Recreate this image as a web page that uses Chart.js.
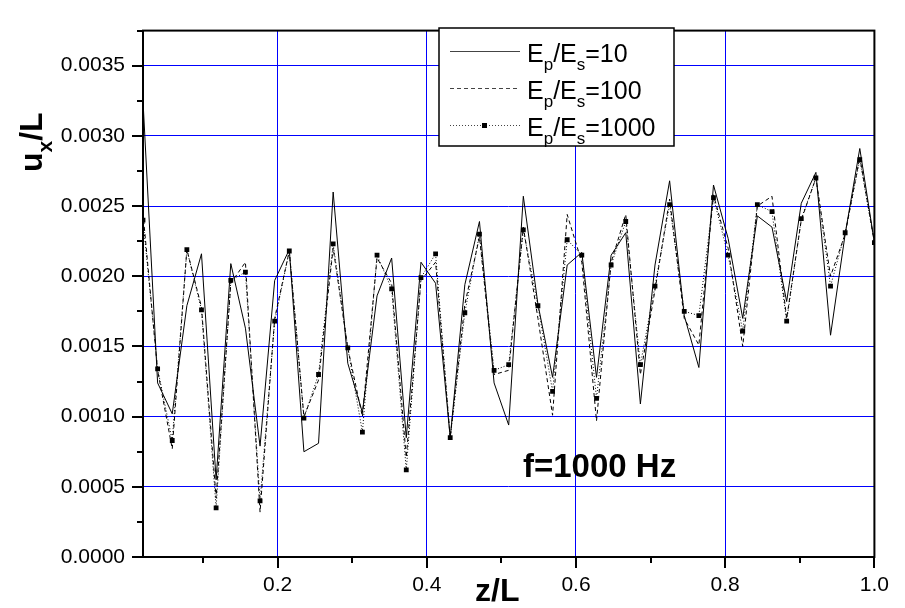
<!DOCTYPE html>
<html>
<head>
<meta charset="utf-8">
<script src="https://cdn.jsdelivr.net/npm/chart.js@4"></script>
<style>
    body { margin: 0; background: #fff; }
    canvas { display: block; }
</style>
</head>
<body>
<canvas id="chart" width="905" height="608"></canvas>
<script>
// z/L positions of the computed nodes
const zL = [0.0196, 0.0392, 0.0588, 0.0784, 0.0980, 0.1176, 0.1373, 0.1569, 0.1765, 0.1961,
    0.2157, 0.2353, 0.2549, 0.2745, 0.2941, 0.3137, 0.3333, 0.3529, 0.3725, 0.3922,
    0.4118, 0.4314, 0.4510, 0.4706, 0.4902, 0.5098, 0.5294, 0.5490, 0.5686, 0.5882,
    0.6078, 0.6275, 0.6471, 0.6667, 0.6863, 0.7059, 0.7255, 0.7451, 0.7647, 0.7843,
    0.8039, 0.8235, 0.8431, 0.8627, 0.8824, 0.9020, 0.9216, 0.9412, 0.9608, 0.9804, 1.0000];

// u_x/L for Ep/Es = 10, 100, 1000
const ratio10 = [0.00325, 0.00124, 0.00102, 0.00179, 0.00216, 0.00055, 0.00209, 0.00163, 0.00079, 0.00197,
    0.00219, 0.00075, 0.00081, 0.00260, 0.00138, 0.00103, 0.00186, 0.00213, 0.00085, 0.00210,
    0.00195, 0.00085, 0.00194, 0.00239, 0.00124, 0.00094, 0.00257, 0.00180, 0.00128, 0.00208,
    0.00217, 0.00128, 0.00215, 0.00231, 0.00109, 0.00208, 0.00268, 0.00172, 0.00135, 0.00265,
    0.00227, 0.00170, 0.00243, 0.00235, 0.00182, 0.00252, 0.00274, 0.00158, 0.00230, 0.00291, 0.00224];
const ratio100 = [0.00245, 0.00133, 0.00077, 0.00219, 0.00178, 0.00042, 0.00195, 0.00210, 0.00032, 0.00170,
    0.00218, 0.00100, 0.00126, 0.00220, 0.00149, 0.00100, 0.00213, 0.00195, 0.00071, 0.00197,
    0.00210, 0.00085, 0.00180, 0.00228, 0.00130, 0.00133, 0.00235, 0.00170, 0.00101, 0.00244,
    0.00210, 0.00097, 0.00210, 0.00244, 0.00130, 0.00190, 0.00255, 0.00170, 0.00151, 0.00258,
    0.00220, 0.00150, 0.00250, 0.00257, 0.00170, 0.00240, 0.00270, 0.00200, 0.00230, 0.00285, 0.00224];
const ratio1000 = [0.00240, 0.00134, 0.00083, 0.00219, 0.00176, 0.00035, 0.00197, 0.00203, 0.00040, 0.00168,
    0.00218, 0.00099, 0.00130, 0.00223, 0.00149, 0.00089, 0.00215, 0.00191, 0.00062, 0.00199,
    0.00216, 0.00085, 0.00174, 0.00230, 0.00133, 0.00137, 0.00233, 0.00179, 0.00118, 0.00226,
    0.00215, 0.00113, 0.00208, 0.00239, 0.00137, 0.00193, 0.00251, 0.00175, 0.00172, 0.00256,
    0.00215, 0.00161, 0.00251, 0.00246, 0.00168, 0.00241, 0.00270, 0.00193, 0.00231, 0.00283, 0.00224];

const xTicks = [0.2, 0.4, 0.6, 0.8, 1.0];
const yTicks = [0, 0.0005, 0.0010, 0.0015, 0.0020, 0.0025, 0.0030, 0.0035];
const seriesNames = ['10', '100', '1000'];

const FONT = '"Liberation Sans", Arial, sans-serif';

function toPoints(values) {
    return zL.map((z, i) => ({x: z, y: values[i]}));
}

// text with subscripts, parts = [[text, isSub], ...]
function drawRich(ctx, parts, x, y, size, weight) {
    for (const [t, sub] of parts) {
        const s = sub ? Math.round(size * 0.66) : size;
        ctx.font = `${weight} ${s}px ${FONT}`;
        ctx.fillText(t, x, y + (sub ? size * 0.3 : 0));
        x += ctx.measureText(t).width;
    }
}

const decorations = {
    id: 'decorations',
    afterDraw(chart) {
        const {ctx, chartArea: a} = chart;
        const x = chart.scales.x;
        const y = chart.scales.y;
        ctx.save();

        // frame
        ctx.strokeStyle = '#000';
        ctx.lineWidth = 2;
        ctx.strokeRect(a.left, a.top, a.right - a.left, a.bottom - a.top);

        // outward ticks, majors and minors
        ctx.beginPath();
        for (let v = 0; v <= 0.00376; v += 0.00025) {
            const py = Math.round(y.getPixelForValue(v));
            const major = Math.abs(v / 0.0005 - Math.round(v / 0.0005)) < 1e-6;
            ctx.moveTo(a.left - (major ? 11 : 6), py);
            ctx.lineTo(a.left, py);
        }
        for (let k = 1; k <= 10; k++) {
            const px = Math.round(x.getPixelForValue(k / 10));
            ctx.moveTo(px, a.bottom);
            ctx.lineTo(px, a.bottom + (k % 2 === 0 ? 11 : 6));
        }
        ctx.stroke();

        // axis titles
        ctx.fillStyle = '#000';
        ctx.textAlign = 'left';
        ctx.textBaseline = 'alphabetic';
        ctx.font = `bold 32px ${FONT}`;
        ctx.fillText('z/L', 475, 601);

        ctx.save();
        ctx.translate(42, 172);
        ctx.rotate(-Math.PI / 2);
        drawRich(ctx, [['u'], ['x', true], ['/L']], 0, 0, 32, 'bold');
        ctx.restore();

        // frequency note
        ctx.font = `bold 33px ${FONT}`;
        ctx.fillText('f=1000 Hz', 523, 477);

        // legend
        const lx = 439, ly = 28, lw = 235, lh = 118;
        ctx.fillStyle = '#fff';
        ctx.fillRect(lx, ly, lw, lh);
        ctx.strokeStyle = '#000';
        ctx.lineWidth = 1.5;
        ctx.strokeRect(lx, ly, lw, lh);

        const rows = [51, 88, 125];
        const dashes = [[], [4, 3], [1, 2]];
        ctx.lineWidth = 1;
        ctx.strokeStyle = '#444';
        rows.forEach((ry, i) => {
            ctx.setLineDash(dashes[i]);
            ctx.beginPath();
            ctx.moveTo(450, ry + 0.5);
            ctx.lineTo(520, ry + 0.5);
            ctx.stroke();
        });
        ctx.setLineDash([]);
        ctx.fillStyle = '#000';
        ctx.fillRect(482, rows[2] - 2, 5, 5);

        rows.forEach((ry, i) => {
            drawRich(ctx, [['E'], ['p', true], ['/E'], ['s', true], ['=' + seriesNames[i]]], 527, ry + 11, 25, 'normal');
        });

        ctx.restore();
    }
};

new Chart(document.getElementById('chart'), {
    type: 'line',
    data: {
        datasets: [
            {
                label: 'Ep/Es=10',
                data: toPoints(ratio10),
                borderColor: '#000',
                borderWidth: 1,
                pointRadius: 0
            },
            {
                label: 'Ep/Es=100',
                data: toPoints(ratio100),
                borderColor: '#000',
                borderWidth: 1,
                borderDash: [4, 3],
                pointRadius: 0
            },
            {
                label: 'Ep/Es=1000',
                data: toPoints(ratio1000),
                borderColor: '#000',
                backgroundColor: '#000',
                borderWidth: 1,
                borderDash: [1, 2],
                pointStyle: 'rect',
                pointRadius: 3.4,
                pointBorderWidth: 0
            }
        ]
    },
    options: {
        responsive: false,
        animation: false,
        devicePixelRatio: 1,
        layout: {
            padding: {top: 10, right: 18, left: 0, bottom: 0}
        },
        plugins: {
            legend: {display: false},
            tooltip: {enabled: false}
        },
        scales: {
            x: {
                type: 'linear',
                min: zL[0],
                max: 1.0,
                afterBuildTicks: (scale) => {
                    scale.ticks = xTicks.map(v => ({value: v}));
                },
                afterFit: (scale) => {
                    scale.height = 51;
                },
                grid: {color: '#0000ff', lineWidth: 1, drawTicks: false},
                border: {display: false},
                ticks: {
                    color: '#000',
                    padding: 16,
                    maxRotation: 0,
                    font: {family: FONT, size: 21},
                    callback: (v) => v.toFixed(1)
                }
            },
            y: {
                min: 0,
                max: 0.00375,
                afterBuildTicks: (scale) => {
                    scale.ticks = yTicks.map(v => ({value: v}));
                },
                afterFit: (scale) => {
                    scale.width = 143;
                },
                grid: {color: '#0000ff', lineWidth: 1, drawTicks: false},
                border: {display: false},
                ticks: {
                    color: '#000',
                    padding: 18,
                    font: {family: FONT, size: 21},
                    callback: (v) => v.toFixed(4)
                }
            }
        }
    },
    plugins: [decorations]
});
</script>
</body>
</html>
